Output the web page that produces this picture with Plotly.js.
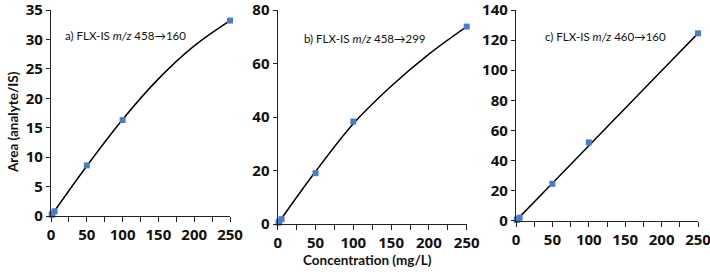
<!DOCTYPE html>
<html><head><meta charset="utf-8">
<script src="https://cdn.plot.ly/plotly-3.0.1.min.js"></script>
<style>body{margin:0;background:#fff}#c{width:710px;height:274px}</style>
</head><body><div id="c"></div>
<script>
// Calibration data
const concA = [1, 2, 5, 50, 100, 250];
const areaA = [0.2, 0.4, 0.8, 8.6, 16.3, 33.2];
const concB = [1, 2, 5, 50, 100, 250];
const areaB = [0.5, 0.9, 1.8, 19.0, 38.3, 73.8];
const concC = [1, 2, 5, 50, 100, 250];
const areaC = [0.5, 1.0, 2.0, 24.5, 52.0, 124.5];
// Trend curve readings
const fitX = [0, 50, 100, 150, 200, 250];
const fitA = [0, 8.5, 16.4, 23.3, 28.9, 33.2];
const fitB = [0, 19.6, 37.5, 51.5, 63.5, 73.8];
const fitC = [0, 24.9, 49.8, 74.7, 99.6, 124.5];
const labels = ["a) FLX-IS <i>m/z</i> 458→160", "b) FLX-IS <i>m/z</i> 458→299", "c) FLX-IS <i>m/z</i> 460→160"];
const xTitle = 'Concentration (mg/L)';
const yTitle = 'Area (analyte/IS)';

const blue = '#4a7cc7';
const FONT = 'Lato, "Open Sans", sans-serif';
const TICKFONT = {family: '"Open Sans", sans-serif', size: 15, color: '#111', weight: 'bold'};
function pts(x, y, n) {
  return {x: x, y: y, xaxis: 'x' + n, yaxis: 'y' + n, mode: 'markers', type: 'scatter',
    marker: {symbol: 'square', size: 6, color: blue}, cliponaxis: false, showlegend: false};
}
function fit(x, y, n) {
  return {x: x, y: y, xaxis: 'x' + n, yaxis: 'y' + n, mode: 'lines', type: 'scatter',
    line: {color: '#000', width: 1.5, shape: 'spline'}, showlegend: false};
}
const data = [
  fit(fitX, fitA, ''), pts(concA, areaA, ''),
  fit(fitX, fitB, 2), pts(concB, areaB, 2),
  fit(fitX, fitC, 3), pts(concC, areaC, 3)
];
const W = 710, H = 274, MT = 10, MR = 12;
const PW = W - MR, PH = H - MT;
function xd(a, b) { return [a / PW, b / PW]; }
function yd(bot, top) { return [(H - bot) / PH, (H - top) / PH]; }
function xax(dom, anchor) {
  return {domain: dom, anchor: anchor, range: [0, 250], tickvals: [0, 50, 100, 150, 200, 250],
    showgrid: false, zeroline: false, showline: true, linecolor: '#222', linewidth: 1.2,
    ticks: 'outside', ticklen: 5, tickcolor: '#222', ticklabeloverflow: 'allow',
    minor: {dtick: 25, ticks: 'outside', ticklen: 5, tickcolor: '#222'},
    tickfont: TICKFONT};
}
function yax(dom, anchor, max, dt) {
  return {domain: dom, anchor: anchor, range: [0, max], dtick: dt,
    showgrid: false, zeroline: false, showline: true, linecolor: '#222', linewidth: 1.2,
    ticks: 'outside', ticklen: 4, tickcolor: '#222', ticklabeloverflow: 'allow',
    tickfont: TICKFONT};
}
const annFont = {family: FONT, size: 11.5, color: '#111'};
const titleFont = {family: FONT, size: 13.5, color: '#111', weight: 'bold'};
const layout = {
  width: W, height: H, margin: {l: 0, r: MR, t: MT, b: 0},
  paper_bgcolor: '#fff', plot_bgcolor: '#fff',
  xaxis: xax(xd(51, 230), 'y'),
  yaxis: yax(yd(216, 6), 'x', 35, 5),
  xaxis2: xax(xd(277.7, 466.7), 'y2'),
  yaxis2: yax(yd(224, 6), 'x2', 80, 20),
  xaxis3: xax(xd(516, 698), 'y3'),
  yaxis3: yax(yd(220.7, 6), 'x3', 140, 20),
  annotations: [
    {text: labels[0], xref: 'x', yref: 'y', x: 16.8, y: 30.7, xanchor: 'left', yanchor: 'middle', showarrow: false, font: annFont},
    {text: labels[1], xref: 'x2', yref: 'y2', x: 31.7, y: 69.4, xanchor: 'left', yanchor: 'middle', showarrow: false, font: annFont},
    {text: labels[2], xref: 'x3', yref: 'y3', x: 37, y: 122.4, xanchor: 'left', yanchor: 'middle', showarrow: false, font: annFont},
    {text: yTitle, xref: 'paper', yref: 'paper', x: 13 / PW, y: (H - 122) / PH, xanchor: 'center', yanchor: 'middle',
      textangle: -90, showarrow: false, font: titleFont},
    {text: xTitle, xref: 'paper', yref: 'paper', x: 368 / PW, y: 0, xanchor: 'center', yanchor: 'bottom', yshift: 4,
      showarrow: false, font: titleFont}
  ]
};
Plotly.newPlot('c', data, layout, {staticPlot: true, displayModeBar: false});
</script></body></html>
